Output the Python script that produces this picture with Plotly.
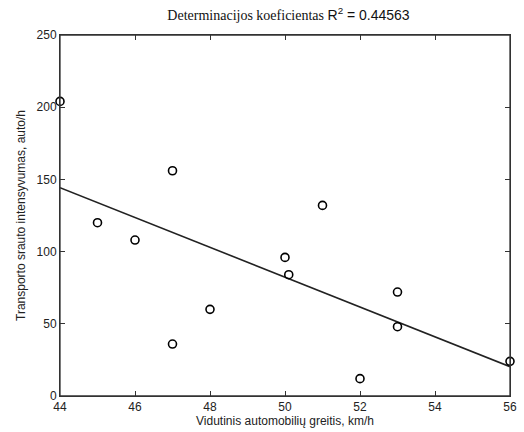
import plotly.graph_objects as go

# Data
speed = [44, 45, 46, 47, 47, 48, 50, 50.1, 51, 52, 53, 53, 56]
flow = [204, 120, 108, 156, 36, 60, 96, 84, 132, 12, 72, 48, 24]
fit_x = [44, 56]
fit_y = [144.3, 20.3]
x_ticks = [44, 46, 48, 50, 52, 54, 56]
y_ticks = [0, 50, 100, 150, 200, 250]

fig = go.Figure()
fig.add_trace(go.Scatter(
    x=fit_x, y=fit_y, mode="lines",
    line=dict(color="#222222", width=1.6), showlegend=False,
))
fig.add_trace(go.Scatter(
    x=speed, y=flow, mode="markers",
    marker=dict(symbol="circle-open", size=8, color="black",
                line=dict(color="black", width=1.6)),
    showlegend=False, cliponaxis=False,
))

axis_common = dict(
    showgrid=False, zeroline=False, showline=True, linecolor="#333333",
    linewidth=1, mirror="allticks", ticks="inside", ticklen=5, tickcolor="#333333",
    tickfont=dict(family="Liberation Sans, Arial", size=12, color="#222222"),
)

fig.update_layout(
    width=524, height=432,
    margin=dict(l=60, r=7, t=35, b=36),
    paper_bgcolor="white", plot_bgcolor="white",
    title=dict(
        text='Determinacijos koeficientas <span style="font-family:Liberation Sans, Arial">R<sup>2</sup> = 0.44563</span>',
        font=dict(family="Liberation Serif, Times New Roman", size=14, color="#111111"),
        x=288.5 / 524, xanchor="center",
        y=1 - 15 / 432, yanchor="middle",
    ),
    xaxis=dict(
        range=[44, 56], tickvals=x_ticks, ticktext=[str(v) for v in x_ticks],
        title=dict(text="Vidutinis automobilių greitis, km/h",
                   font=dict(family="Liberation Sans, Arial", size=12, color="#222222"),
                   standoff=2),
        **axis_common,
    ),
    yaxis=dict(
        range=[0, 250], tickvals=y_ticks, ticktext=[str(v) for v in y_ticks],
        title=dict(text="Transporto srauto intensyvumas, auto/h",
                   font=dict(family="Liberation Sans, Arial", size=12, color="#222222"),
                   standoff=8),
        **axis_common,
    ),
    shapes=[dict(type="rect", xref="paper", yref="paper", x0=0, x1=1, y0=0, y1=1,
                 line=dict(color="#333333", width=1.3), layer="above")],
)

fig.write_html(
    "out.html",
    config={"displayModeBar": False},
    post_script="document.body.style.margin='0';document.body.style.overflow='hidden';",
)
